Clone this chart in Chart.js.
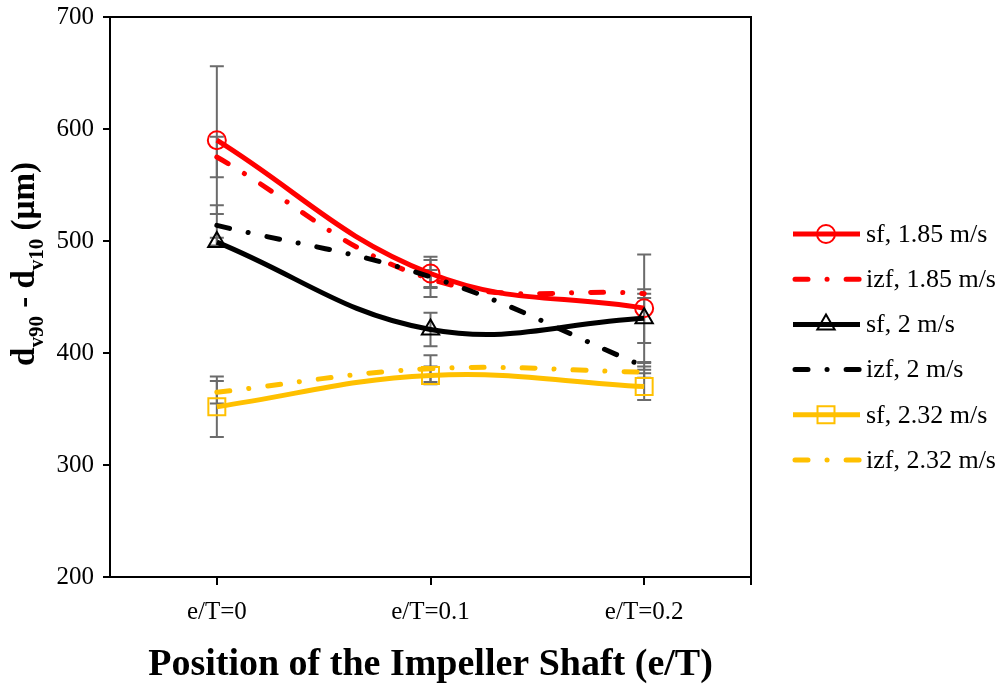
<!DOCTYPE html>
<html>
<head>
<meta charset="utf-8">
<script src="https://cdn.jsdelivr.net/npm/chart.js"></script>
<style>
  body { margin: 0; background: #fff; }
</style>
</head>
<body>
<canvas id="myChart" width="1006" height="688"></canvas>
<script>
const positions = ['e/T=0', 'e/T=0.1', 'e/T=0.2']
const yTicks = [200, 300, 400, 500, 600, 700]
const seriesNames = ['sf, 1.85 m/s', 'izf, 1.85 m/s', 'sf, 2 m/s', 'izf, 2 m/s', 'sf, 2.32 m/s', 'izf, 2.32 m/s']

const sf185 = [590, 471, 440]
const sf185Err = [66, 12, 48]
const izf185 = [575, 466, 453]
const izf185Err = [18, 8, 4]
const sf2 = [499, 421, 431]
const sf2Err = [4, 15, 22]
const izf2 = [514, 468, 388]
const izf2Err = [18, 18, 3]
const sf232 = [352, 380, 370]
const sf232Err = [27, 8, 12]
const izf232 = [365, 386, 383]
const izf232Err = [10, 12, 5]

const red = '#ff0000'
const black = '#000000'
const yellow = '#ffc000'
const dashDot = [13, 19, 0.1, 19]
const serif = "'Liberation Serif', 'Times New Roman', serif"

function line(label, data, errors, color, marker, dashed) {
    return {
        label: label,
        data: data,
        errors: errors,
        borderColor: color,
        backgroundColor: 'rgba(0,0,0,0)',
        borderWidth: 5,
        borderDash: dashed ? dashDot : [],
        borderCapStyle: dashed ? 'round' : 'butt',
        tension: 0.4,
        pointStyle: marker || 'circle',
        pointRadius: marker ? (marker === 'rect' ? 12 : (marker === 'triangle' ? 10 : 9)) : 0,
        pointBorderWidth: 2,
        pointBorderColor: color,
        pointBackgroundColor: 'rgba(0,0,0,0)',
        fill: false,
    }
}

const datasets = [
    line(seriesNames[0], sf185, sf185Err, red, 'circle', false),
    line(seriesNames[1], izf185, izf185Err, red, null, true),
    line(seriesNames[2], sf2, sf2Err, black, 'triangle', false),
    line(seriesNames[3], izf2, izf2Err, black, null, true),
    line(seriesNames[4], sf232, sf232Err, yellow, 'rect', false),
    line(seriesNames[5], izf232, izf232Err, yellow, null, true),
]
// later series on top, like the original
datasets.forEach((d, i) => { d.order = datasets.length - i })

const errorBars = {
    id: 'errorBars',
    beforeDatasetsDraw(chart) {
        const ctx = chart.ctx
        const xs = chart.scales.x
        const ys = chart.scales.y
        ctx.save()
        ctx.strokeStyle = '#6b6b6b'
        ctx.lineWidth = 2
        chart.data.datasets.forEach(ds => {
            ds.data.forEach((v, j) => {
                const x = xs.getPixelForValue(j)
                const top = ys.getPixelForValue(v + ds.errors[j])
                const bot = ys.getPixelForValue(v - ds.errors[j])
                ctx.beginPath()
                ctx.moveTo(x, top); ctx.lineTo(x, bot)
                ctx.moveTo(x - 7, top); ctx.lineTo(x + 7, top)
                ctx.moveTo(x - 7, bot); ctx.lineTo(x + 7, bot)
                ctx.stroke()
            })
        })
        ctx.restore()
    }
}

function drawMarker(ctx, style, x, y, r) {
    ctx.beginPath()
    if (style === 'circle') {
        ctx.arc(x, y, r, 0, Math.PI * 2)
    } else if (style === 'triangle') {
        ctx.moveTo(x, y - r)
        ctx.lineTo(x + r * 0.866, y + r * 0.5)
        ctx.lineTo(x - r * 0.866, y + r * 0.5)
        ctx.closePath()
    } else {
        const s = r * Math.SQRT1_2
        ctx.rect(x - s, y - s, 2 * s, 2 * s)
    }
    ctx.stroke()
}

const extras = {
    id: 'extras',
    afterDraw(chart) {
        const ctx = chart.ctx
        const a = chart.chartArea
        ctx.save()
        // frame
        ctx.strokeStyle = '#000'
        ctx.lineWidth = 2
        ctx.strokeRect(a.left, a.top, a.right - a.left, a.bottom - a.top)
        ctx.beginPath()
        ctx.moveTo(a.right, a.bottom); ctx.lineTo(a.right, a.bottom + 8)
        ctx.stroke()

        // y title with subscripts
        const parts = [['d', false], ['v90', true], [' - d', false], ['v10', true], [' (\u00b5m)', false]]
        const big = 'bold 33px ' + serif
        const small = 'bold 21px ' + serif
        let total = 0
        parts.forEach(p => { ctx.font = p[1] ? small : big; total += ctx.measureText(p[0]).width })
        ctx.translate(34, 264)
        ctx.rotate(-Math.PI / 2)
        ctx.fillStyle = '#000'
        ctx.textBaseline = 'alphabetic'
        let pos = -total / 2
        parts.forEach(p => {
            ctx.font = p[1] ? small : big
            ctx.fillText(p[0], pos, p[1] ? 9 : 0)
            pos += ctx.measureText(p[0]).width
        })
        ctx.restore()

        // legend
        ctx.save()
        ctx.font = '26px ' + serif
        ctx.textBaseline = 'middle'
        ctx.fillStyle = '#000'
        chart.data.datasets.forEach((ds, i) => {
            const y = 234 + i * 45.2
            ctx.strokeStyle = ds.borderColor
            ctx.lineWidth = 5
            ctx.setLineDash(ds.borderDash)
            ctx.lineCap = ds.borderCapStyle
            ctx.beginPath()
            ctx.moveTo(ds.borderDash.length ? 795 : 793, y)
            ctx.lineTo(860, y)
            ctx.stroke()
            ctx.setLineDash([])
            if (ds.pointRadius > 0) {
                ctx.lineWidth = 2
                drawMarker(ctx, ds.pointStyle, 826, y, ds.pointRadius)
            }
            ctx.fillText(ds.label, 866, y + 1)
        })
        ctx.restore()
    }
}

const ctx = document.getElementById('myChart').getContext('2d')
const myChart = new Chart(ctx, {
    type: 'line',
    data: {
        labels: positions,
        datasets: datasets,
    },
    options: {
        responsive: false,
        devicePixelRatio: 1,
        animation: false,
        layout: { padding: { left: 0, right: 255, top: 17, bottom: 0 } },
        plugins: {
            legend: { display: false },
            tooltip: { enabled: false },
        },
        scales: {
            x: {
                offset: true,
                grid: { offset: false, drawOnChartArea: false, color: '#000', lineWidth: 2, tickLength: 8 },
                border: { display: false },
                ticks: { color: '#000', font: { family: serif, size: 25 }, padding: 12 },
                title: {
                    display: true,
                    text: 'Position of the Impeller Shaft (e/T)',
                    color: '#000',
                    font: { family: serif, size: 38, weight: 'bold' },
                    padding: { top: 10, bottom: 0 },
                },
                afterFit(scale) { scale.height = 111 },
            },
            y: {
                min: yTicks[0],
                max: yTicks[yTicks.length - 1],
                grid: { drawOnChartArea: false, color: '#000', lineWidth: 2, tickLength: 7 },
                border: { display: false },
                ticks: { stepSize: yTicks[1] - yTicks[0], color: '#000', font: { family: serif, size: 25 }, padding: 9 },
                afterFit(scale) {
                    scale.width = 110
                    scale.paddingTop = 0
                    scale.paddingBottom = 0
                },
            },
        },
    },
    plugins: [errorBars, extras],
})
</script>
</body>
</html>
